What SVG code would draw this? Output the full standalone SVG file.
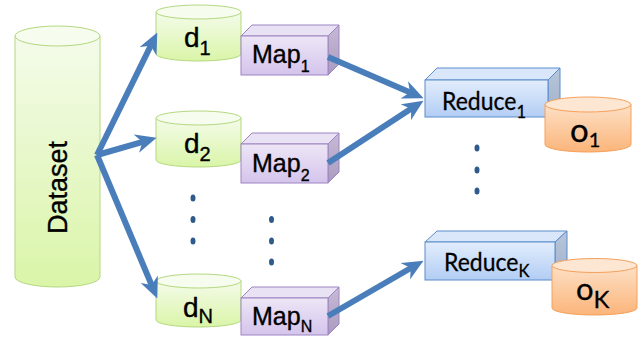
<svg xmlns="http://www.w3.org/2000/svg" width="641" height="337" viewBox="0 0 641 337">
<style>
.arial{font-family:"Liberation Sans",Arial,sans-serif;fill:#000;stroke:#000;stroke-width:0.35}
.cal{font-family:Lato,"Open Sans",sans-serif;fill:#000;stroke:#000;stroke-width:0.3}
.gbody{fill:url(#gG);stroke:#b5d87f;stroke-width:1}
.gtop{fill:#f6fcee;stroke:#b5d87f;stroke-width:1}
.pfront{fill:url(#gP);stroke:#9d84c2;stroke-width:1}
.ptop{fill:#e9e1f4;stroke:#9d84c2;stroke-width:1}
.pside{fill:url(#gPs);stroke:#9d84c2;stroke-width:1}
.bfront{fill:url(#gB);stroke:#5b8ccc;stroke-width:1}
.btop{fill:#dae7fa;stroke:#5b8ccc;stroke-width:1}
.bside{fill:url(#gBs);stroke:#5b8ccc;stroke-width:1}
.obody{fill:url(#gO);stroke:#f5a05a;stroke-width:1}
.otop{fill:#fde6d2;stroke:#f5a05a;stroke-width:1}
.arrow{stroke:#4a7ebb;stroke-width:6;fill:none;marker-end:url(#ah)}
.dot{fill:#2f5b8c}
</style>
<defs>
<linearGradient id="gG" x1="0" y1="0" x2="0" y2="1"><stop offset="0" stop-color="#f4fbea"/><stop offset="1" stop-color="#daf5a8"/></linearGradient>
<linearGradient id="gP" x1="0" y1="0" x2="0" y2="1"><stop offset="0" stop-color="#ede6f6"/><stop offset="1" stop-color="#d4c4ec"/></linearGradient>
<linearGradient id="gPs" x1="0" y1="0" x2="0" y2="1"><stop offset="0" stop-color="#c6bad6"/><stop offset="1" stop-color="#a99cbe"/></linearGradient>
<linearGradient id="gB" x1="0" y1="0" x2="0" y2="1"><stop offset="0" stop-color="#e2edfc"/><stop offset="1" stop-color="#b2cdf4"/></linearGradient>
<linearGradient id="gBs" x1="0" y1="0" x2="0" y2="1"><stop offset="0" stop-color="#b9c6da"/><stop offset="1" stop-color="#9eb0cb"/></linearGradient>
<linearGradient id="gO" x1="0" y1="0" x2="0" y2="1"><stop offset="0" stop-color="#fde0c6"/><stop offset="1" stop-color="#fbb57a"/></linearGradient>
<marker id="ah" markerUnits="userSpaceOnUse" viewBox="0 0 20 18" markerWidth="21" markerHeight="19" refX="8" refY="9" orient="auto">
<path d="M0,0 L20,9 L0,18 L6,9 z" fill="#4a7ebb"/>
</marker>
</defs>

<g id="dataset">
<path class="gbody" d="M15,36 L15,277 A42.5,10 0 0 0 100,277 L100,36 Z"/>
<ellipse class="gtop" cx="57.5" cy="36" rx="42.5" ry="10"/>
<text class="arial" font-size="27" transform="translate(67,187.5) rotate(-90)" text-anchor="middle">Dataset</text>
</g>

<g id="d1">
<path class="gbody" d="M156,12 L156,54 A42.5,7 0 0 0 241,54 L241,12 Z"/>
<ellipse class="gtop" cx="198.5" cy="12" rx="42.5" ry="7"/>
<text class="arial" x="184" y="47" font-size="28">d<tspan font-size="20" dy="8">1</tspan></text>
</g>
<g id="d2">
<path class="gbody" d="M156,118 L156,160 A42.5,7 0 0 0 241,160 L241,118 Z"/>
<ellipse class="gtop" cx="198.5" cy="118" rx="42.5" ry="7"/>
<text class="arial" x="184" y="153" font-size="28">d<tspan font-size="20" dy="8">2</tspan></text>
</g>
<g id="dN">
<path class="gbody" d="M156,281 L156,320 A42.5,7 0 0 0 241,320 L241,281 Z"/>
<ellipse class="gtop" cx="198.5" cy="281" rx="42.5" ry="7"/>
<text class="arial" x="183" y="317" font-size="28">d<tspan font-size="20" dy="6">N</tspan></text>
</g>

<g id="map1">
<path class="ptop" d="M241,36 L252,25 L339,25 L328,36 Z"/>
<path class="pside" d="M328,36 L339,25 L339,64 L328,75 Z"/>
<rect class="pfront" x="241" y="36" width="87" height="39"/>
<text class="arial" x="252" y="63" font-size="25">Map<tspan font-size="16" dy="9">1</tspan></text>
</g>
<g id="map2">
<path class="ptop" d="M241,144 L252,133 L339,133 L328,144 Z"/>
<path class="pside" d="M328,144 L339,133 L339,172 L328,183 Z"/>
<rect class="pfront" x="241" y="144" width="87" height="39"/>
<text class="arial" x="252" y="172" font-size="25">Map<tspan font-size="16" dy="9">2</tspan></text>
</g>
<g id="mapN">
<path class="ptop" d="M241,298 L252,287 L339,287 L328,298 Z"/>
<path class="pside" d="M328,298 L339,287 L339,324 L328,335 Z"/>
<rect class="pfront" x="241" y="298" width="87" height="37"/>
<text class="arial" x="252" y="325" font-size="25">Map<tspan font-size="16" dy="7">N</tspan></text>
</g>

<g id="reduce1">
<path class="btop" d="M425,80 L437,68 L560,68 L548,80 Z"/>
<path class="bside" d="M548,80 L560,68 L560,105 L548,117 Z"/>
<rect class="bfront" x="425" y="80" width="123" height="37"/>
<text class="cal" transform="translate(442,110) scale(0.92,1)" font-size="25">Reduce<tspan font-size="18" dy="8">1</tspan></text>
</g>
<g id="o1">
<path class="obody" d="M545,104.5 L545,144.5 A43,7.5 0 0 0 631,144.5 L631,104.5 Z"/>
<ellipse class="otop" cx="588" cy="104.5" rx="43" ry="7.5"/>
<text class="cal" x="570" y="142" font-size="33">o<tspan font-size="20" dy="5">1</tspan></text>
</g>

<g id="reduceK">
<path class="btop" d="M425,242 L437,231 L567,231 L555,242 Z"/>
<path class="bside" d="M555,242 L567,231 L567,269 L555,280 Z"/>
<rect class="bfront" x="425" y="242" width="130" height="38"/>
<text class="cal" transform="translate(444,271) scale(0.92,1)" font-size="25">Reduce<tspan font-size="18" dy="6">K</tspan></text>
</g>
<g id="oK">
<path class="obody" d="M552,265.5 L552,308 A42.5,7 0 0 0 637,308 L637,265.5 Z"/>
<ellipse class="otop" cx="594.5" cy="265.5" rx="42.5" ry="7"/>
<text class="cal" x="576" y="300" font-size="31">o<tspan font-size="24" dy="8">K</tspan></text>
</g>

<g id="dots">
<ellipse class="dot" cx="193" cy="198" rx="2.5" ry="3.5"/>
<ellipse class="dot" cx="193" cy="219.5" rx="2.5" ry="3.5"/>
<ellipse class="dot" cx="193" cy="241" rx="2.5" ry="3.5"/>
<ellipse class="dot" cx="271.5" cy="219.5" rx="2.5" ry="3.5"/>
<ellipse class="dot" cx="271.5" cy="241" rx="2.5" ry="3.5"/>
<ellipse class="dot" cx="271.5" cy="262" rx="2.5" ry="3.5"/>
<ellipse class="dot" cx="477" cy="148" rx="2.5" ry="3.5"/>
<ellipse class="dot" cx="477" cy="170" rx="2.5" ry="3.5"/>
<ellipse class="dot" cx="477" cy="191" rx="2.5" ry="3.5"/>
</g>

<g id="connectors">
<line class="arrow" x1="97" y1="155" x2="151.7" y2="43.8"/>
<line class="arrow" x1="97" y1="155" x2="144.5" y2="141.3"/>
<line class="arrow" x1="97" y1="155" x2="152.4" y2="286.9"/>
<line class="arrow" x1="328" y1="57" x2="412" y2="93.2"/>
<line class="arrow" x1="328" y1="163" x2="412.9" y2="107.6"/>
<line class="arrow" x1="328" y1="316" x2="412.6" y2="267"/>
</g>
</svg>
